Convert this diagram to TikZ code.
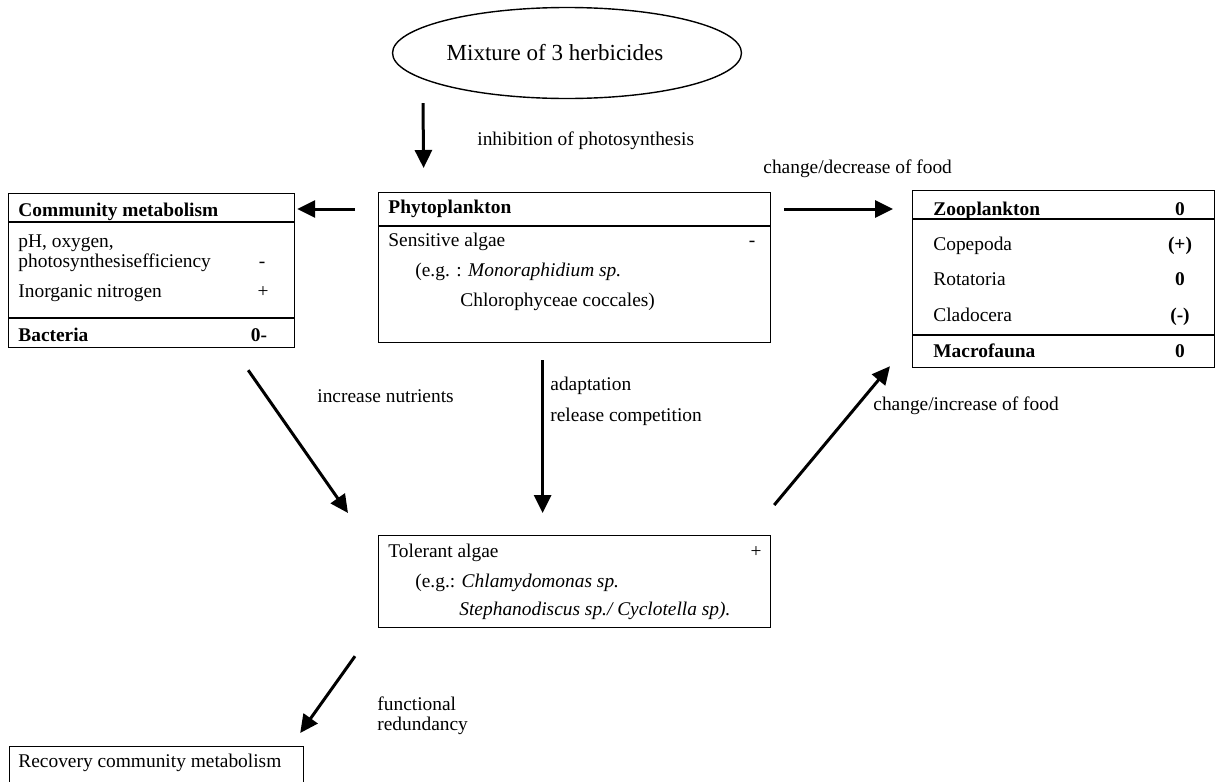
\documentclass[tikz,border=0pt]{standalone}
\usepackage{fontspec}
\setmainfont{Liberation Serif}
\usetikzlibrary{arrows.meta,calc,shapes.geometric}

\begin{document}
\begin{tikzpicture}[x=0.5pt,y=-0.5pt,>={Triangle[length=9pt,width=8.5pt]},
                    font=\fontsize{9.7}{11.6}\selectfont,
                    box/.style={draw,line width=0.6pt,inner sep=0pt,anchor=north west},
                    rule/.style={line width=0.9pt},
                    txt/.style={anchor=base west,inner sep=0pt},
                    val/.style={anchor=base,inner sep=0pt},
                    flow/.style={->,line width=1.5pt}]
  \clip (0,0) rectangle (1216,782);

  \node[ellipse,draw,line width=0.7pt,inner sep=0pt,minimum width=174.5pt,minimum height=45.5pt,
        font=\fontsize{11.5}{13.8}\selectfont] (herb) at (567,53)
        {Mixture of 3 herbicides\hspace*{12pt}};

  \node[box,minimum width=143pt,minimum height=77pt]   (comm)  at (8,193)   {};
  \node[box,minimum width=196pt,minimum height=75pt]   (phyto) at (378,192) {};
  \node[box,minimum width=151pt,minimum height=88.5pt] (zoo)   at (912,190) {};
  \node[box,minimum width=196pt,minimum height=46pt]   (tol)   at (378,535) {};
  \node[box,minimum width=147pt,minimum height=35pt]   (rec)   at (9,746)   {};

  % separators
  \draw[rule] ($(comm.north west)+(0,29)$)   -- ($(comm.north east)+(0,29)$);
  \draw[rule] ($(comm.north west)+(0,125)$)  -- ($(comm.north east)+(0,125)$);
  \draw[rule] ($(phyto.north west)+(0,34)$)  -- ($(phyto.north east)+(0,34)$);
  \draw[rule] ($(zoo.north west)+(0,29)$)    -- ($(zoo.north east)+(0,29)$);
  \draw[rule] ($(zoo.north west)+(0,145)$)   -- ($(zoo.north east)+(0,145)$);

  % community metabolism
  \node[txt] (commtitle) at (18,216) {\textbf{Community metabolism}};
  \node[txt] (ph)        at (18,247) {pH, oxygen,};
  \node[txt] (photo)     at (18,267) {photosynthesisefficiency};
  \node[val] (photov)    at (262,267) {-};
  \node[txt] (inorg)     at (18,297) {Inorganic nitrogen};
  \node[val] (inorgv)    at (263,297) {+};
  \node[txt] (bact)      at (18,341) {\textbf{Bacteria}};
  \node[val] (bactv)     at (259,341) {\textbf{0-}};

  % phytoplankton
  \node[txt] (phytitle) at (388,213) {\textbf{Phytoplankton}};
  \node[txt] (sens)     at (388,246) {Sensitive algae};
  \node[val] (sensv)    at (752,246) {-};
  \node[txt] (sensex)   at (415,276) {(e.g. : \textit{Monoraphidium sp.}};
  \node[txt] (chloro)   at (460,306) {Chlorophyceae coccales)};

  % zooplankton
  \node[txt] (zootitle) at (933,215) {\textbf{Zooplankton}};
  \node[val] (zoov)     at (1180,215) {\textbf{0}};
  \node[txt] (cope)     at (933,250) {Copepoda};
  \node[val] (copev)    at (1180,250) {\textbf{(+)}};
  \node[txt] (rota)     at (933,285) {Rotatoria};
  \node[val] (rotav)    at (1180,285) {\textbf{0}};
  \node[txt] (clado)    at (933,321) {Cladocera};
  \node[val] (cladov)   at (1180,321) {\textbf{(-)}};
  \node[txt] (macro)    at (933,357) {\textbf{Macrofauna}};
  \node[val] (macrov)   at (1180,357) {\textbf{0}};

  % tolerant algae
  \node[txt] (toltitle) at (388,557) {Tolerant algae};
  \node[val] (tolv)     at (756,557) {+};
  \node[txt] (tolex)    at (415,587) {(e.g.: \textit{Chlamydomonas sp.}};
  \node[txt] (steph)    at (459,615) {\textit{Stephanodiscus sp./ Cyclotella sp).}};

  \node[txt] (rectitle) at (18,767) {Recovery community metabolism};

  % effects
  \draw[flow] ($(herb.south)+(-144,4)$)       -- ($(phyto.north)+(-151,-24)$);
  \draw[flow] ($(phyto.north west)+(-23,17)$) -- ($(comm.north east)+(2,16)$);
  \draw[flow] ($(phyto.north east)+(13,17)$)  -- ($(zoo.north west)+(-19,19)$);
  \draw[flow] ($(phyto.south)+(-32,17)$)      -- ($(tol.north)+(-32,-22)$);
  \draw[flow] ($(comm.south east)+(-47,22)$)  -- ($(tol.north west)+(-30,-22)$);
  \draw[flow] ($(tol.north east)+(3,-30)$)    -- ($(zoo.south west)+(-22,-2)$);
  \draw[flow] ($(tol.south west)+(-23,28)$)   -- ($(rec.north east)+(-4,-13)$);

  \node[txt] (inhib)   at (477,145) {inhibition of photosynthesis};
  \node[txt] (decr)    at (763,173) {change/decrease of food};
  \node[txt] (nutr)    at (317,402) {increase nutrients};
  \node[txt] (adapt)   at (550,390) {adaptation};
  \node[txt] (release) at (550,421) {release competition};
  \node[txt] (incr)    at (873,410) {change/increase of food};
  \node[txt] (func)    at (377,710) {functional};
  \node[txt] (redund)  at (377,730) {redundancy};
\end{tikzpicture}
\end{document}
